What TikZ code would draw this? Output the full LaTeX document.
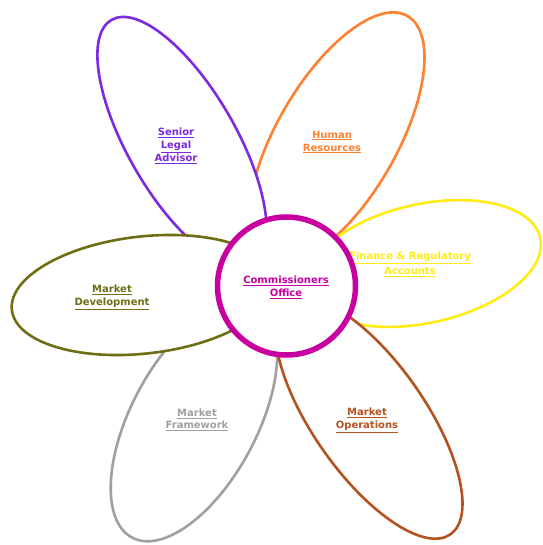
\documentclass[tikz,border=0pt]{standalone}
\usepackage{fontspec}
\setmainfont{DejaVu Sans}
\usepackage{tikz}
\usetikzlibrary{positioning}
\definecolor{advisorviolet}{RGB}{125,40,225}
\definecolor{hrorange}{RGB}{255,128,48}
\definecolor{financeyellow}{RGB}{255,236,20}
\definecolor{developolive}{RGB}{110,110,20}
\definecolor{frameworkgray}{RGB}{160,160,160}
\definecolor{operationsbrown}{RGB}{180,82,32}
\definecolor{hubmagenta}{RGB}{200,0,160}
\tikzset{
    petal/.style={line width=2.6pt, fill=white},
    petallabel/.style={font=\fontsize{10}{13}\selectfont\bfseries, align=center, inner sep=0pt},
    hub/.style={line width=5.5pt, draw=hubmagenta, fill=white},
}

\begin{document}
\begin{tikzpicture}[x=1pt, y=-1pt]
    \useasboundingbox (0,0) rectangle (542,545);
    \fill[white] (0,0) rectangle (542,545);
    % petals, back to front
    \foreach \cx/\cy/\ang/\ra/\rb/\col in {336.5/139/60/142/60/hrorange, 424/263.5/12.4/119/59.4/financeyellow, 182/142/-60/141/54/advisorviolet, 194/421/62/132/63/frameworkgray, 143.5/295/6.5/132.5/58.5/developolive, 369/418/-55/142/56/operationsbrown} {
        \draw[petal, draw=\col, rotate around={\ang:(\cx,\cy)}] (\cx,\cy) ellipse [x radius=\ra, y radius=\rb];
    }

    \node[petallabel, text=advisorviolet] (senior) at (176,146) {\underline{Senior}\\\underline{Legal}\\\underline{Advisor}};
    \node[petallabel, text=hrorange] (human) at (332,142) {\underline{Human}\\\underline{Resources}};
    \node[petallabel, text=financeyellow, font=\fontsize{10}{15}\selectfont\bfseries] (finance) at (410,264) {\underline{Finance \& Regulatory}\\\underline{Accounts}};
    \node[petallabel, text=developolive] (development) at (112,297) {\underline{Market}\\\underline{Development}};
    \node[petallabel, text=frameworkgray, font=\fontsize{10}{12}\selectfont\bfseries] (framework) at (197,420) {\underline{Market}\\\underline{Framework}};
    \node[petallabel, text=operationsbrown] (operations) at (367,420) {\underline{Market}\\\underline{Operations}};

    % centre
    \draw[hub] (286.5,286) circle [radius=69];
    \node[petallabel, text=hubmagenta] (office) at (286,287) {\underline{Commissioners}\\\underline{Office}};
\end{tikzpicture}
\end{document}
